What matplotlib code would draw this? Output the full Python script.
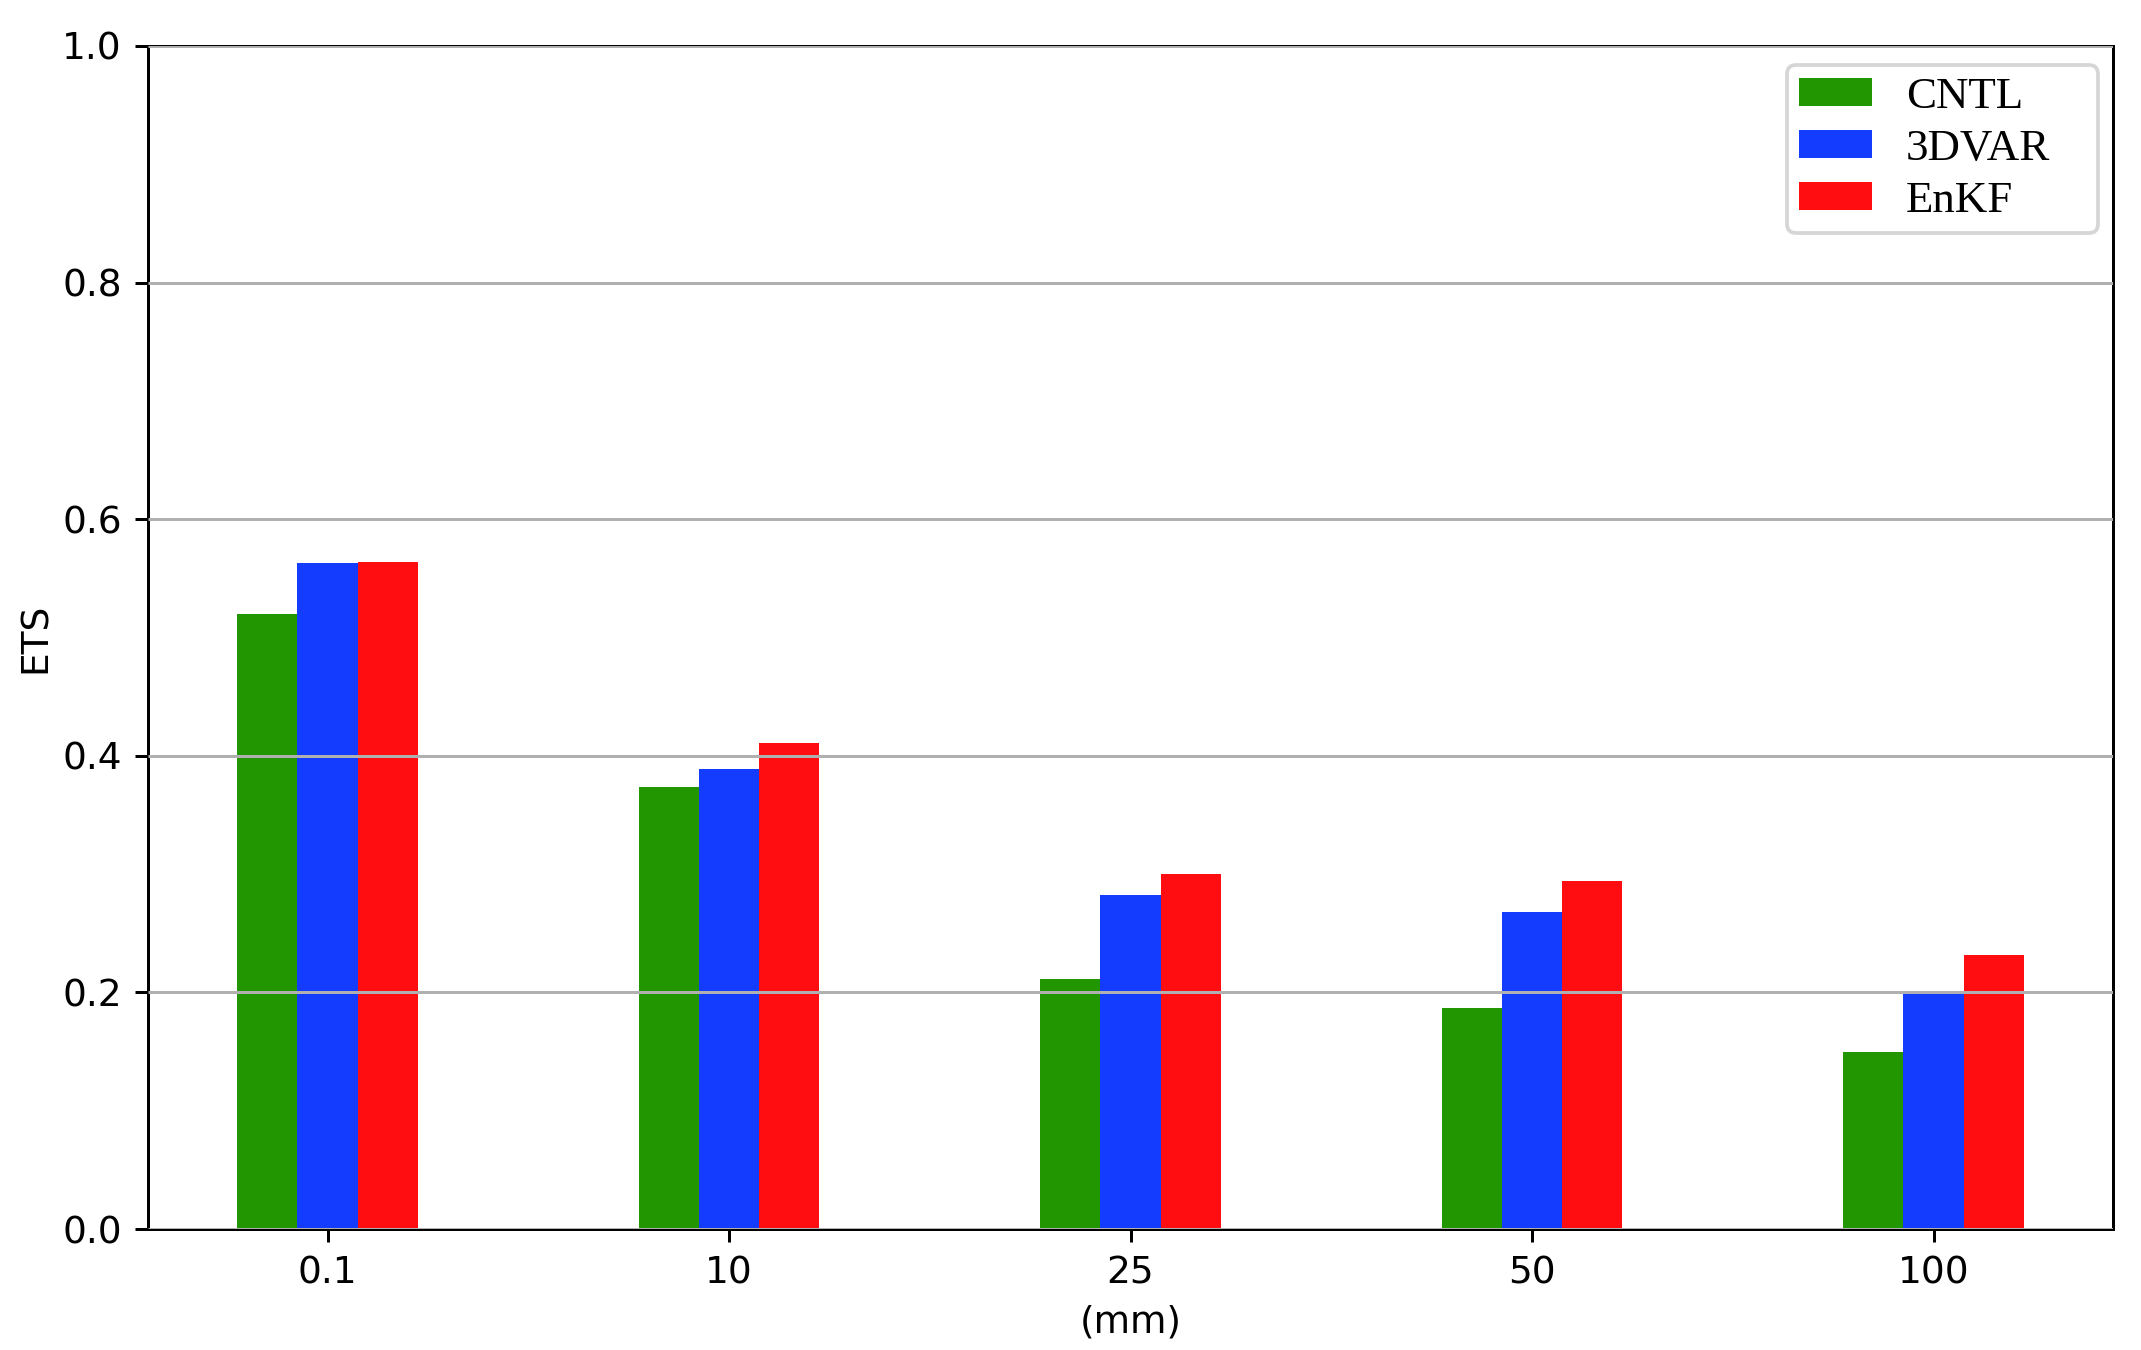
import matplotlib
matplotlib.use("Agg")
import matplotlib.pyplot as plt
import numpy as np

categories = ["0.1", "10", "25", "50", "100"]
series_names = ["CNTL", "3DVAR", "EnKF"]
cntl = [0.520, 0.374, 0.211, 0.187, 0.150]
dvar = [0.563, 0.389, 0.282, 0.268, 0.200]
enkf = [0.564, 0.411, 0.300, 0.294, 0.232]
colors = ["#229600", "#143cff", "#ff0d10"]

DPI = 270
fig = plt.figure(figsize=(2141 / DPI, 1350 / DPI), dpi=DPI)
ax = fig.add_axes([0.0691, 0.0896, 0.9179, 0.8764])

x = np.arange(len(categories))
w = 0.15
for i, (vals, name, c) in enumerate(zip([cntl, dvar, enkf], series_names, colors)):
    ax.bar(x + (i - 1) * w, vals, width=w, color=c, label=name)

ax.set_xticks(x)
ax.set_xticklabels(categories)
ax.set_ylim(0, 1.0)
ax.set_yticks([0.0, 0.2, 0.4, 0.6, 0.8, 1.0])
ax.set_ylabel("ETS", labelpad=2.3)
ax.set_xlabel("(mm)", labelpad=3.5)
ax.yaxis.grid(True, color="#b0b0b0", linewidth=0.8)
ax.set_axisbelow(False)

ax.legend(loc="upper left", bbox_to_anchor=(0.834, 0.5, 0.1584, 0.484),
          mode="expand", borderaxespad=0,
          prop={"family": "Liberation Serif", "size": 12},
          borderpad=0.27, handlelength=1.62, handleheight=0.58,
          handletextpad=0.75, labelspacing=0.27)

fig.savefig("out.png", dpi=DPI)
